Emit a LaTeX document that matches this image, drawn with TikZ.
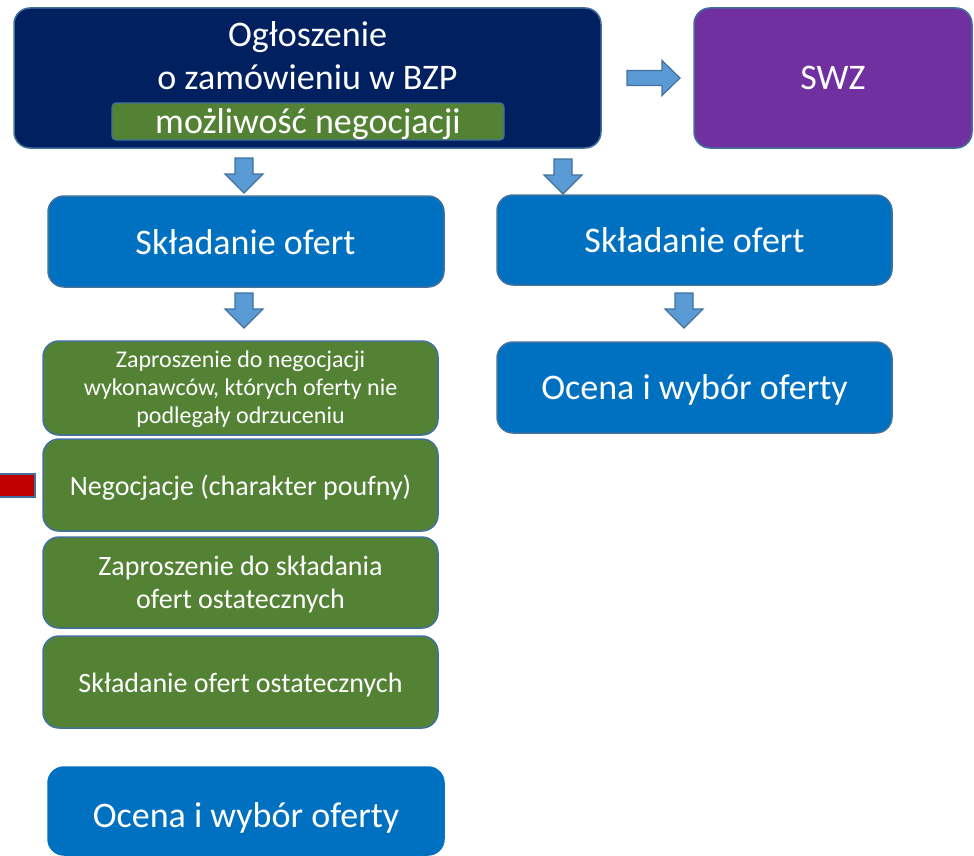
\documentclass[tikz,border=0pt]{standalone}
\usepackage{fontspec}
\setmainfont{Carlito}
\definecolor{navy}{HTML}{002060}
\definecolor{grn}{HTML}{548235}
\definecolor{blu}{HTML}{0070C0}
\definecolor{purp}{HTML}{7030A0}
\definecolor{edge}{HTML}{41719C}
\definecolor{arrfill}{HTML}{5B9BD5}
\definecolor{redbar}{HTML}{C00000}
\begin{document}
\begin{tikzpicture}[x=1pt,y=-1pt,
  box/.style={draw=edge,line width=1.5pt,rounded corners=16pt,inner sep=0pt,outer sep=0pt},
  big/.style={text=white,inner sep=0pt,anchor=base,font=\fontsize{36}{43}\selectfont},
  mid/.style={text=white,inner sep=0pt,anchor=base,font=\fontsize{28}{33}\selectfont},
  sml/.style={text=white,inner sep=0pt,anchor=base,font=\fontsize{24}{28}\selectfont},
  arrowst/.style={fill=arrfill,draw=edge,line width=1.2pt,line join=miter},
  darr/.pic={\draw[arrowst] (-9,0) -- (9,0) -- (9,16) -- (19,16) -- (0,35) -- (-19,16) -- (-9,16) -- cycle;},
  rarr/.pic={\draw[arrowst] (0,-7.5) -- (35,-7.5) -- (35,-17.5) -- (53,0) -- (35,17.5) -- (35,7.5) -- (0,7.5) -- cycle;}
]
\useasboundingbox (0,0) rectangle (974,856);
\clip (0,0) rectangle (974,856);
% top boxes
\node[box,fill=navy,minimum width=587pt,minimum height=140pt] (ogl) at (307.5,78) {};
\node[draw=edge,line width=1.2pt,fill=grn,rounded corners=4pt,minimum width=392pt,minimum height=37pt,inner sep=0pt] (neg0) at (308,121.5) {};
\node[big] (t1) at (307.5,47) {Ogłoszenie};
\node[big] (t2) at (307.5,90) {o zamówieniu w BZP};
\node[big] (t3) at (308,133) {możliwość negocjacji};
\node[box,fill=purp,minimum width=278pt,minimum height=140pt] (swz) at (833,78) {};
\node[big] (t4) at (833,90) {SWZ};
\pic at (627,78) {rarr};
% left column
\pic at (244,158) {darr};
\node[box,fill=blu,minimum width=396pt,minimum height=91pt] (skl1) at (246,241.5) {};
\node[big] (t5) at (245.5,254) {Składanie ofert};
\pic at (244,293) {darr};
\node[box,fill=grn,minimum width=395pt,minimum height=94pt] (z1) at (240.5,388) {};
\node[sml] (t6) at (240.5,367) {Zaproszenie do negocjacji};
\node[sml] (t7) at (240.5,395) {wykonawców, których oferty nie};
\node[sml] (t8) at (240.5,423) {podlegały odrzuceniu};
\node[box,fill=grn,minimum width=395pt,minimum height=92pt] (neg) at (240.5,485) {};
\node[mid] (t9) at (240.5,495) {Negocjacje (charakter poufny)};
\node[box,fill=grn,minimum width=395pt,minimum height=91pt] (z3) at (240.5,582.5) {};
\node[mid] (t10) at (240.5,575) {Zaproszenie do składania};
\node[mid] (t11) at (240.5,608) {ofert ostatecznych};
\node[box,fill=grn,minimum width=395pt,minimum height=92pt] (sk4) at (240.5,682) {};
\node[mid] (t12) at (240.5,692) {Składanie ofert ostatecznych};
\node[box,draw=blu,fill=blu,minimum width=396pt,minimum height=88pt] (oc1) at (246,811) {};
\node[big] (t13) at (246,827) {Ocena i wybór oferty};
\node[draw=edge,line width=1.5pt,fill=redbar,minimum width=40pt,minimum height=23pt,inner sep=0pt] (red) at (15,485.5) {};
% right column
\pic at (563,159) {darr};
\node[box,fill=blu,minimum width=395pt,minimum height=90pt] (skl2) at (694.5,240) {};
\node[big] (t14) at (694.5,252) {Składanie ofert};
\pic at (684,293) {darr};
\node[box,fill=blu,minimum width=395pt,minimum height=91pt] (oc2) at (694.5,387.5) {};
\node[big] (t15) at (694.5,399) {Ocena i wybór oferty};
\end{tikzpicture}
\end{document}
